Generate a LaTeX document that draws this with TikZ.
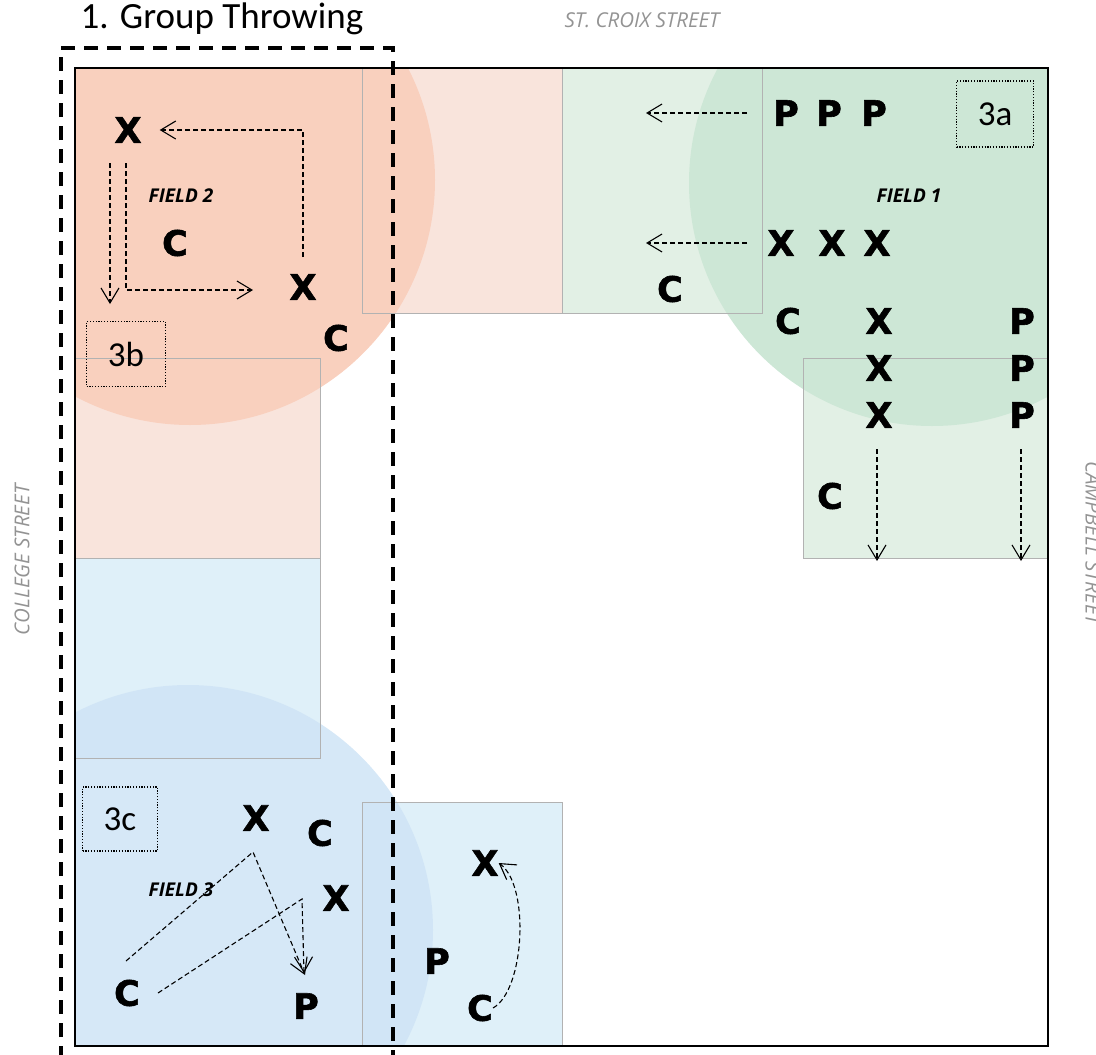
\documentclass[tikz,border=0pt]{standalone}
\usepackage{fontspec}
\setmainfont{Carlito}
\newfontfamily\letterfont{DejaVu Sans}[BoldFeatures={FakeBold=1.6}]
\newfontfamily\streetfont{Open Sans}
\usetikzlibrary{arrows.meta}

\definecolor{redfield}{RGB}{249,208,190}
\definecolor{redlight}{RGB}{249,228,220}
\definecolor{greenfield}{RGB}{205,231,214}
\definecolor{greenlight}{RGB}{226,240,229}
\definecolor{bluefield}{RGB}{207,228,246}
\definecolor{bluelight}{RGB}{223,240,249}

\begin{document}
\begin{tikzpicture}[x=1pt,y=-1pt,
  player/.style={font=\letterfont\bfseries\fontsize{35}{35}\selectfont, inner sep=0pt},
  fieldname/.style={font=\streetfont\bfseries\itshape\fontsize{19}{19}\selectfont},
  street/.style={font=\streetfont\itshape\fontsize{20.5}{20.5}\selectfont, text=gray!85},
  zone/.style={draw, line width=1.2pt, dash pattern=on 1.2pt off 1.6pt, font=\fontsize{35}{35}\selectfont},
  pass/.style={->, line width=1.1pt, dash pattern=on 5pt off 3pt},
  >={Straight Barb[length=15pt,width=18pt]}]

\useasboundingbox (0,0) rectangle (1096,1055);

\fill[redlight] (362,68) rectangle (562,313);
\fill[redlight] (75,358) rectangle (320,558);
\fill[greenlight] (562,68) rectangle (762,313);
\fill[greenlight] (803,358) rectangle (1048,558);
\fill[bluelight] (75,558) rectangle (320,758);
\fill[bluelight] (362,802) rectangle (562,1046);

\begin{scope}
\clip (75,68) rectangle (1048,1046);
\fill[redfield] (190,180) circle (245pt);
\fill[greenfield] (932,183) circle (243pt);
\fill[bluefield, opacity=0.85] (188,930) circle (245pt);
\end{scope}

\draw[gray!60] (362,68) rectangle (562,313);
\draw[gray!60] (75,358) rectangle (320,558);
\draw[gray!60] (562,68) rectangle (762,313);
\draw[gray!60] (803,358) rectangle (1048,558);
\draw[gray!60] (75,558) rectangle (320,758);
\draw[gray!60] (362,802) rectangle (562,1046);

\draw[line width=1.4pt] (75,68) rectangle (1048,1046);

\draw[line width=3.5pt, dash pattern=on 14pt off 9pt] (61,1060) -- (61,48) -- (393,48) -- (393,1060);

\node (title) at (222,19) [font=\fontsize{37}{37}\selectfont]{1. Group Throwing};
\node (stcroix) at (642,20) [street]{ST. CROIX STREET};
\node (college) at (22,560) [street, rotate=90]{COLLEGE STREET};
\node (campbell) at (1093,543) [street, rotate=-90]{CAMPBELL STREET};

\node (z3a) at (995,114) [zone, minimum width=77pt, minimum height=66pt]{3a};
\node (z3b) at (126,354) [zone, minimum width=79pt, minimum height=65pt]{3b};
\node (z3c) at (120,819) [zone, minimum width=75pt, minimum height=64pt]{3c};

\node (f1) at (909,196) [fieldname]{FIELD 1};
\node (f2) at (181,196) [fieldname]{FIELD 2};
\node (f3) at (181,890) [fieldname]{FIELD 3};

\node (p1) at (786,113) [player]{P};
\node (p2) at (829,113) [player]{P};
\node (p3) at (874,113) [player]{P};
\node (x1) at (781,243) [player]{X};
\node (x2) at (832,243) [player]{X};
\node (x3) at (877,243) [player]{X};
\node (c1) at (670,289) [player]{C};
\node (c2) at (788,321) [player]{C};
\node (x4) at (879,321) [player]{X};
\node (x5) at (879,368) [player]{X};
\node (x6) at (879,415) [player]{X};
\node (p4) at (1022,321) [player]{P};
\node (p5) at (1022,368) [player]{P};
\node (p6) at (1022,415) [player]{P};
\node (c3) at (830,496) [player]{C};

\node (x7) at (128,130) [player]{X};
\node (x8) at (303,287) [player]{X};
\node (c4) at (175,243) [player]{C};
\node (c5) at (336,338) [player]{C};

\node (x9) at (256,818) [player]{X};
\node (c6) at (320,833) [player]{C};
\node (x10) at (336,898) [player]{X};
\node (c7) at (127,993) [player]{C};
\node (p7) at (306,1006) [player]{P};
\node (p8) at (437,961) [player]{P};
\node (x11) at (485,863) [player]{X};
\node (c8) at (480,1008) [player]{C};

\coordinate (a1) at (747,113);
\coordinate (a2) at (646,113);
\coordinate (a3) at (747,243);
\coordinate (a4) at (646,243);
\coordinate (a5) at (877,449);
\coordinate (a6) at (877,561);
\coordinate (a7) at (1021,449);
\coordinate (a8) at (1021,561);

\coordinate (b1) at (110,163);
\coordinate (b2) at (110,304);
\coordinate (b3) at (126,163);
\coordinate (b4) at (253,290);

\coordinate (e1) at (126,961);
\coordinate (e2) at (253,852);
\coordinate (e3) at (305,975);
\coordinate (e4) at (158,993);
\coordinate (e5) at (302,899);
\coordinate (e6) at (304,973);

\draw [pass] (a1) to (a2);
\draw [pass] (a3) to (a4);
\draw [pass] (a5) to (a6);
\draw [pass] (a7) to (a8);

\draw [pass, shorten <=17pt, shorten >=18pt] (x8.north) |- (x7);
\draw [pass] (b1) to (b2);
\draw [pass] (b3) |- (b4);

\draw [pass] (e1) -- (e2) -- (e3);
\draw [pass] (e4) -- (e5) -- (e6);
\draw [pass] (c8.east) .. controls (525,990) and (530,885) .. (x11.east);

\end{tikzpicture}
\end{document}
